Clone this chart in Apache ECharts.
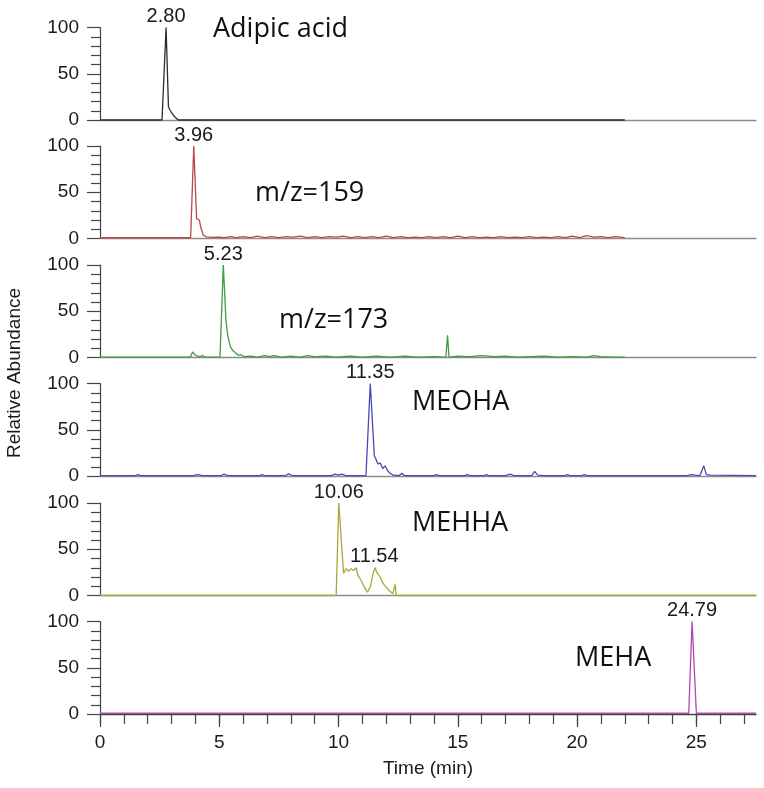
<!DOCTYPE html>
<html><head><meta charset="utf-8">
<script src="https://cdn.jsdelivr.net/npm/echarts@6/dist/echarts.min.js"></script>
<style>html,body{margin:0;padding:0;background:#fff}#c{width:764px;height:788px}</style>
</head><body><div id="c"></div>
<script>
// ---------- data (time in min, relative abundance %) ----------
const compoundNames = ['Adipic acid', 'm/z=159', 'm/z=173', 'MEOHA', 'MEHHA', 'MEHA'];

const adipicAcid = [[0,0],[2.6,0],[2.77,100],[2.87,14],[2.95,10],[3.05,6],[3.15,3],[3.28,0],[22,0]];

const mz159 = [[0,0.8],[3.8,0.8],[3.93,100],[4.05,21.5],[4.17,19.7],[4.22,12.5],[4.33,3.5],[4.47,1.8],
  [4.7,1.2],[5.0,1.5],[5.2,1],[5.5,2],[5.7,1],[6.0,2],[6.3,1],[6.6,2.5],[6.9,1],[7.2,2],[7.5,1],[7.8,2],
  [8.1,1.5],[8.4,2.5],[8.7,1],[9.0,2],[9.3,1],[9.6,2],[9.9,1.5],[10.2,2.5],[10.5,1],[10.8,2],[11.1,1],
  [11.4,2],[11.7,1],[12.0,2.5],[12.3,1],[12.6,2],[12.9,1],[13.2,1.5],[13.5,1],[13.8,2],[14.1,1],[14.4,2],
  [14.7,1],[15.0,2.5],[15.3,1],[15.6,2],[15.9,1],[16.2,1.5],[16.5,1],[16.8,2],[17.1,1],[17.4,1.5],[17.7,1],
  [18.0,2],[18.3,1],[18.6,1.5],[18.9,1],[19.2,2],[19.5,1],[19.8,2.5],[20.1,1],[20.4,3],[20.7,1.5],[21.0,2],
  [21.3,1],[21.6,2],[22.0,1]];

const mz173 = [[0,0.3],[3.7,0.3],[3.8,1],[3.88,6],[3.95,5],[4.02,2],[4.1,3],[4.18,1],[4.3,2],[4.4,0.5],
  [5.03,0.5],[5.17,100],[5.28,40],[5.36,23],[5.45,13],[5.5,10],[5.59,7],[5.68,5],[5.8,2.5],[5.9,3],[6.05,1],
  [6.3,1.5],[6.6,0.5],[6.9,2],[7.1,1],[7.3,2],[7.6,0.5],[8.0,1.5],[8.4,0.5],[8.7,2],[9.0,1],[9.5,1.5],
  [9.9,0.5],[10.5,1.5],[11.0,0.5],[11.6,1.5],[12.2,0.5],[12.8,1.5],[13.3,0.5],[14.0,1],[14.5,0.5],
  [14.57,24],[14.63,0.5],[15.0,1.5],[15.5,1],[16.0,2],[16.5,1],[17.0,1.5],[17.5,0.5],[18.0,1],[18.6,1.5],
  [19.2,0.5],[19.8,1],[20.4,0.5],[20.7,2],[21.0,1],[21.5,0.5],[22.0,0.5]];

const meoha = [[0,0.5],[1.5,0.5],[1.6,1.5],[1.7,0.5],[3.9,0.5],[4.1,1.5],[4.3,0.5],[5.1,0.5],[5.2,2],
  [5.35,0.5],[6.7,0.5],[6.8,1.5],[6.9,0.5],[7.8,0.5],[7.9,2.5],[8.05,0.5],[9.7,0.5],[9.85,2],[10.0,1],
  [10.15,2],[10.3,0.5],[11.15,0.5],[11.33,100],[11.5,22],[11.57,18],[11.65,13],[11.75,14],[11.85,8],
  [11.95,11],[12.05,6],[12.15,3],[12.3,1],[12.55,0.5],[12.65,3],[12.75,0.5],[14.0,0.5],[14.1,1.5],[14.2,0.5],
  [15.3,0.5],[15.4,1.5],[15.5,0.5],[16.1,0.5],[16.2,1.5],[16.3,0.5],[17.0,0.5],[17.2,2],[17.35,0.5],
  [18.1,0.5],[18.22,5],[18.35,1],[18.6,0.5],[19.5,0.5],[19.6,1.5],[19.7,0.5],[20.2,0.5],[20.3,1.5],
  [20.4,0.5],[24.6,0.5],[24.8,1.5],[24.95,1],[25.15,0.5],[25.31,11],[25.42,1.5],[25.6,1],[27.5,0.5]];

const mehha = [[0,0],[9.9,0],[10.01,100],[10.21,24],[10.32,29],[10.42,26],[10.52,29],[10.63,27],[10.74,30],
  [10.81,22],[10.93,17],[11.04,11],[11.21,3.5],[11.33,9],[11.46,25],[11.54,30],[11.6,25],[11.72,21],
  [11.88,12.5],[12.1,6],[12.28,2],[12.33,0],[12.37,12],[12.42,0],[27.5,0]];

const meha = [[0,0.8],[24.68,0.8],[24.82,100],[25.0,0.8],[27.5,0.8]];

// peak annotations: [time, abundance, text]
const peakLabels = [
  [[2.77,100,'2.80']],
  [[3.93,100,'3.96']],
  [[5.17,100,'5.23']],
  [[11.33,100,'11.35']],
  [[10.01,100,'10.06'],[11.5,30,'11.54']],
  [[24.82,100,'24.79']]
];

const xMajorTicks = [0,5,10,15,20,25];
const xMinorTicks = [0,1,2,3,4,5,6,7,8,9,10,11,12,13,14,15,16,17,18,19,20,21,22,23,24,25,26,27];

const traces = [adipicAcid, mz159, mz173, meoha, mehha, meha];
const colors = ['#2b2b2b','#b8484c','#3f9c3f','#4a4ab2','#a8a83a','#b446b4'];
const tops = [27.5,146,265,383.5,503,621.5];
const labelPos = [[213,29],[255,193],[279,320],[412,402],[412,523],[575,658]];

const axisColor = '#444';
const tickFont = {fontSize:19, color:'#1a1a1a', fontFamily:'Liberation Sans, Arial, sans-serif'};

const grid = tops.map(t => ({left:100, right:8, top:t, height:92.5}));
const xAxis = tops.map((t,i) => {
  const last = i === tops.length - 1;
  const ax = {
    type:'value', gridIndex:i, min:0, max:27.5,
    axisLine:{show:true, lineStyle:{color: last ? axisColor : '#8c8c8c', width:1.3}},
    axisTick:{show:false}, axisLabel:{show:false}, splitLine:{show:false}
  };
  if (last) {
    ax.axisTick = {show:true, length:13, customValues:xMajorTicks, lineStyle:{color:axisColor, width:1.2}};
    ax.axisLabel = Object.assign({show:true, margin:19, customValues:xMajorTicks}, tickFont);
    ax.name = 'Time (min)';
    ax.nameLocation = 'middle';
    ax.nameGap = 45;
    ax.nameTextStyle = Object.assign({}, tickFont);
  }
  return ax;
});
xAxis.push({
  type:'value', gridIndex:5, min:0, max:27.5, position:'bottom',
  axisLine:{show:false},
  axisTick:{show:true, length:10, customValues:xMinorTicks, lineStyle:{color:axisColor, width:1.2}},
  axisLabel:{show:false}, splitLine:{show:false}
});

const yAxis = tops.map((t,i) => ({
  type:'value', gridIndex:i, min:0, max:100, interval:50,
  axisLine:{show:true, lineStyle:{color:axisColor, width:1.2}},
  axisTick:{show:true, length:13, lineStyle:{color:axisColor, width:1.2}},
  minorTick:{show:true, splitNumber:5, length:9, lineStyle:{color:axisColor, width:1.2}},
  splitLine:{show:false}, minorSplitLine:{show:false},
  axisLabel:Object.assign({margin:21}, tickFont)
}));

const series = traces.map((d,i) => ({
  type:'line', xAxisIndex:i, yAxisIndex:i, data:d, clip:false,
  showSymbol:false, symbol:'none', silent:true,
  lineStyle:{color:colors[i], width:1.3},
  markPoint:{
    symbol:'circle', symbolSize:0, silent:true,
    label:Object.assign({show:true, position:'top', distance:1, formatter:'{b}'}, tickFont, {fontSize:20}),
    data: peakLabels[i].map(p => ({name:p[2], coord:[p[0],p[1]]}))
  }
}));

const graphic = compoundNames.map((n,i) => ({
  type:'text', x:labelPos[i][0], y:labelPos[i][1], silent:true,
  style:{text:n, fontSize:27, fontFamily:'Open Sans, sans-serif', fill:'#111', align:'left', verticalAlign:'middle'}
}));
graphic.push({
  type:'text', x:15, y:373, rotation:Math.PI/2, silent:true,
  style:{text:'Relative Abundance', align:'center', verticalAlign:'middle', fill:'#1a1a1a',
    font:'19px Liberation Sans, Arial, sans-serif'}
});

const chart = echarts.init(document.getElementById('c'));
chart.setOption({animation:false, backgroundColor:'#fff', grid, xAxis, yAxis, series, graphic});
</script></body></html>
